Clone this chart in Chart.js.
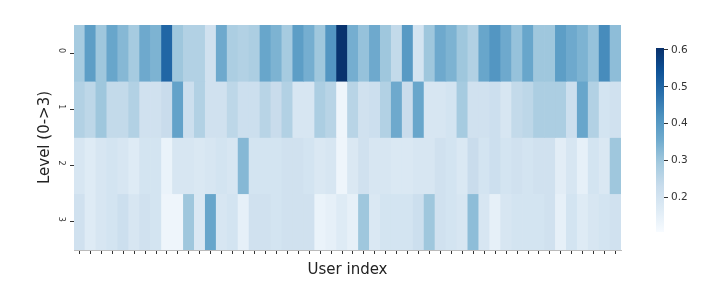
<!DOCTYPE html>
<html>
<head>
<meta charset="utf-8">
<script src="https://cdn.jsdelivr.net/npm/chart.js@4"></script>
<style>
  html, body { margin: 0; padding: 0; background: #fff; }
  #wrap { position: relative; width: 724px; height: 296px; overflow: hidden; }
  canvas { position: absolute; top: 0; filter: blur(0.6px); }
  #heat { left: 0; }
  #bar { left: 640px; }
</style>
</head>
<body>
<div id="wrap">
  <canvas id="heat" width="724" height="296"></canvas>
  <canvas id="bar" width="84" height="296"></canvas>
</div>
<script>
const users = [0,1,2,3,4,5,6,7,8,9,10,11,12,13,14,15,16,17,18,19,20,21,22,23,24,
  25,26,27,28,29,30,31,32,33,34,35,36,37,38,39,40,41,42,43,44,45,46,47,48,49];
const levelLabels = ['0', '1', '2', '3'];

const level0 = [.29,.39,.30,.37,.33,.29,.36,.34,.50,.30,.27,.27,.21,.36,.28,.27,.28,.37,.34,.29,.39,.35,.30,.41,.60,
  .35,.31,.36,.30,.24,.40,.20,.30,.36,.34,.30,.27,.37,.41,.36,.31,.37,.30,.30,.39,.36,.34,.31,.43,.32];
const level1 = [.27,.25,.30,.24,.24,.27,.21,.21,.23,.38,.22,.27,.21,.21,.25,.22,.22,.26,.23,.27,.19,.19,.28,.26,.13,
  .26,.21,.22,.27,.36,.23,.37,.19,.19,.20,.29,.21,.21,.22,.19,.24,.25,.28,.28,.28,.22,.37,.27,.20,.21];
const level2 = [.19,.17,.19,.20,.19,.17,.20,.20,.14,.19,.19,.18,.19,.20,.19,.33,.20,.20,.20,.21,.21,.20,.18,.19,.13,
  .18,.21,.19,.19,.18,.18,.19,.19,.21,.20,.18,.23,.20,.22,.20,.21,.20,.21,.21,.16,.19,.15,.20,.18,.30];
const level3 = [.21,.17,.19,.20,.22,.19,.21,.20,.13,.13,.30,.18,.37,.19,.20,.15,.21,.21,.20,.21,.21,.21,.14,.15,.17,
  .15,.30,.18,.20,.20,.20,.22,.30,.21,.20,.19,.32,.19,.15,.19,.20,.20,.20,.21,.15,.20,.17,.19,.20,.21];
const levels = [level0, level1, level2, level3];

const colorMin = 0.107;
const colorMax = 0.605;
const colorTicks = [0.2, 0.3, 0.4, 0.5, 0.6];
// Blues, a little washed out like the picture
const blues = ['#f7fbff','#deebf5','#c8dcec','#a4cadf','#70abce','#4e93c0','#2a70ac','#0d5196','#08306b'];

function hexToRgb(h) {
  return [1, 3, 5].map(i => parseInt(h.slice(i, i + 2), 16));
}

function colorOf(v) {
  let t = (v - colorMin) / (colorMax - colorMin);
  t = Math.max(0, Math.min(1, t)) * (blues.length - 1);
  const i = Math.min(Math.floor(t), blues.length - 2);
  const a = hexToRgb(blues[i]), b = hexToRgb(blues[i + 1]);
  const c = a.map((x, k) => Math.round(x + (b[k] - x) * (t - i)));
  return `rgb(${c[0]},${c[1]},${c[2]})`;
}

const datasets = levels.map((vals, r) => ({
  label: levelLabels[r],
  data: vals.map(() => [r, r + 1]),
  backgroundColor: vals.map(colorOf),
  borderWidth: 0,
  barPercentage: 1,
  categoryPercentage: 1,
  grouped: false
}));

new Chart(document.getElementById('heat'), {
  type: 'bar',
  data: { labels: users, datasets: datasets },
  options: {
    responsive: false,
    animation: false,
    layout: { padding: { left: 36, right: 103, top: 25, bottom: 16 } },
    plugins: { legend: { display: false }, tooltip: { enabled: false } },
    scales: {
      x: {
        grid: { offset: false, drawOnChartArea: false, tickLength: 4, tickColor: '#333' },
        border: { color: '#bbb' },
        ticks: { autoSkip: false, maxRotation: 0, padding: 0, font: { size: 1 }, callback: () => '' },
        title: { display: true, text: 'User index', color: '#222', padding: { top: 1, bottom: 1 },
          font: { family: 'DejaVu Sans', size: 15 } },
        afterFit: s => { s.height = 30; }
      },
      y: {
        min: 0,
        max: 4,
        reverse: true,
        grid: { drawOnChartArea: false, tickLength: 4, tickColor: '#333' },
        border: { display: false },
        afterBuildTicks: s => { s.ticks = levelLabels.map((l, i) => ({ value: i + 0.5 })); },
        ticks: {
          minRotation: -90, maxRotation: -90, padding: 9, color: '#333',
          font: { family: 'DejaVu Sans', size: 8 },
          callback: v => levelLabels[Math.floor(v)]
        },
        title: { display: true, text: 'Level (0->3)', color: '#222', padding: 0,
          font: { family: 'DejaVu Sans', size: 15 } },
        afterFit: s => { s.width = 38; }
      }
    }
  }
});

// colorbar, its own little chart
new Chart(document.getElementById('bar'), {
  type: 'bar',
  data: {
    labels: ['colorbar'],
    datasets: [{
      data: [[colorMin, colorMax]],
      borderWidth: 0,
      barPercentage: 1,
      categoryPercentage: 1,
      backgroundColor: ctx => {
        const area = ctx.chart.chartArea;
        if (!area) return blues[4];
        const g = ctx.chart.ctx.createLinearGradient(0, area.bottom, 0, area.top);
        blues.forEach((c, i) => g.addColorStop(i / (blues.length - 1), c));
        return g;
      }
    }]
  },
  options: {
    responsive: false,
    animation: false,
    layout: { padding: { left: 16, top: 48, bottom: 64 } },
    plugins: { legend: { display: false }, tooltip: { enabled: false } },
    scales: {
      x: { display: false },
      y: {
        position: 'right',
        min: colorMin,
        max: colorMax,
        grid: { drawOnChartArea: false, tickLength: 4, tickColor: '#333' },
        border: { display: false },
        afterBuildTicks: s => { s.ticks = colorTicks.map(v => ({ value: v })); },
        ticks: { padding: 3, color: '#333', font: { family: 'DejaVu Sans', size: 10.5 },
          callback: v => v.toFixed(1) },
        afterFit: s => { s.width = 60; }
      }
    }
  }
});
</script>
</body>
</html>
